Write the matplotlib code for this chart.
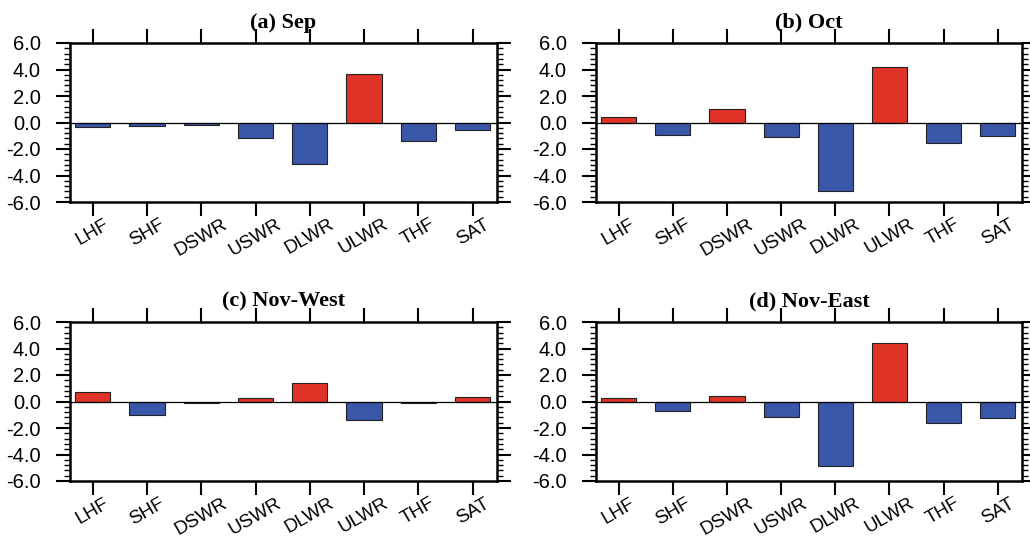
import matplotlib
matplotlib.use("Agg")
import matplotlib.pyplot as plt
from matplotlib.ticker import MultipleLocator

categories = ["LHF", "SHF", "DSWR", "USWR", "DLWR", "ULWR", "THF", "SAT"]
titles = ["(a) Sep", "(b) Oct", "(c) Nov-West", "(d) Nov-East"]
sep_vals = [-0.35, -0.23, -0.18, -1.2, -3.1, 3.65, -1.38, -0.53]
oct_vals = [0.4, -0.93, 1.0, -1.06, -5.16, 4.18, -1.58, -1.03]
nov_west_vals = [0.7, -1.05, -0.08, 0.23, 1.43, -1.4, -0.15, 0.33]
nov_east_vals = [0.23, -0.68, 0.45, -1.2, -4.9, 4.4, -1.66, -1.23]
yticks = [-6.0, -4.0, -2.0, 0.0, 2.0, 4.0, 6.0]

RED = "#e03327"
BLUE = "#3a56a9"

W, H = 1030, 539
fig = plt.figure(figsize=(W / 100, H / 100), dpi=100)

boxes = [(70, 43, 497, 202), (596, 43, 1022, 202),
         (70, 322, 497, 481), (596, 322, 1022, 481)]
series = [sep_vals, oct_vals, nov_west_vals, nov_east_vals]

for (l, t, r, b), vals, title in zip(boxes, series, titles):
    ax = fig.add_axes([l / W, 1 - b / H, (r - l) / W, (b - t) / H])
    x = list(range(1, len(categories) + 1))
    colors = [RED if v > 0 else BLUE for v in vals]
    ax.bar(x, vals, width=0.65, color=colors, edgecolor="#222222",
           linewidth=0.8, zorder=2)
    ax.axhline(0, color="black", linewidth=0.9, zorder=3)
    ax.set_xlim(0.58, 8.45)
    ax.set_ylim(-6, 6)
    ax.set_yticks(yticks)
    ax.set_yticklabels([f"{v:.1f}" for v in yticks], fontsize=14.5,
                       family="Liberation Sans")
    ax.yaxis.set_minor_locator(MultipleLocator(0.4))
    ax.set_xticks(x)
    ax.set_xticklabels(categories, rotation=30, ha="center", va="top",
                       fontsize=13.5, family="Liberation Sans")
    ax.tick_params(axis="both", which="major", direction="out", length=10,
                   width=1.5, top=True, right=True, labeltop=False,
                   labelright=False)
    ax.tick_params(axis="x", which="major", pad=0)
    ax.tick_params(axis="y", which="major", pad=11)
    ax.tick_params(axis="y", which="minor", direction="out", length=4,
                   width=1.0, left=True, right=True)
    for s in ax.spines.values():
        s.set_linewidth(1.8)
    ax.set_title(title, fontsize=16, fontweight="bold",
                 family="Liberation Serif", pad=11)

fig.savefig("out.png", dpi=100)
